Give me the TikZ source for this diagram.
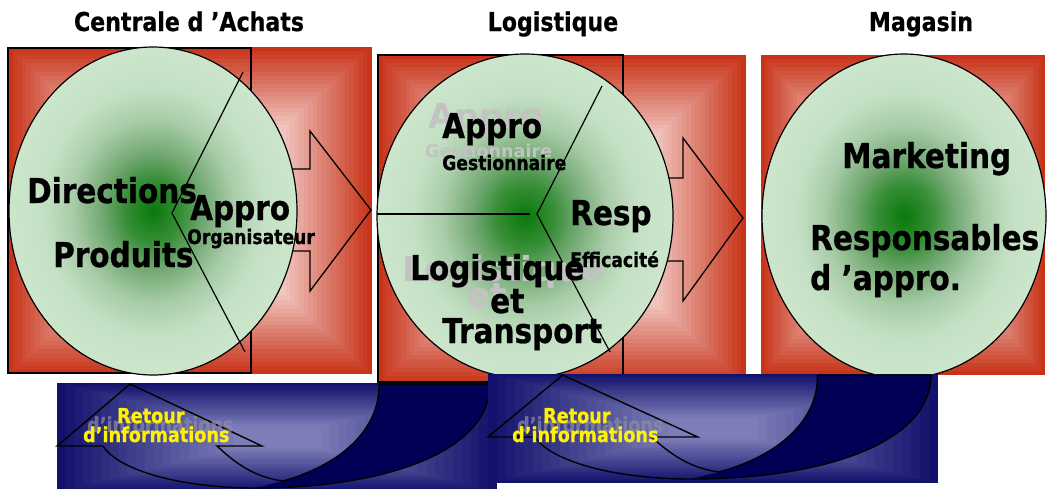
\documentclass[tikz,border=0pt]{standalone}
\usepackage{fontspec}
\newfontfamily\bodyf{DejaVu Sans}[FakeStretch=0.86, FakeBold=0.8]
\newfontfamily\ghostf{DejaVu Sans}
\newfontfamily\titlef{DejaVu Sans}[FakeStretch=0.85, FakeBold=0.6]
\definecolor{redE}{RGB}{200,52,26}
\definecolor{redC}{RGB}{242,205,200}
\definecolor{navyE}{RGB}{18,18,108}
\definecolor{navyC}{RGB}{125,125,185}
\definecolor{navyD}{RGB}{0,0,85}
\definecolor{ghost}{RGB}{195,195,195}
\definecolor{ghostB}{RGB}{140,140,165}
\pgfdeclareradialshading{greenball}{\pgfpoint{0bp}{0bp}}{rgb(0bp)=(0.04,0.47,0.04); rgb(5bp)=(0.22,0.56,0.22); rgb(8.5bp)=(0.43,0.65,0.43); rgb(14bp)=(0.66,0.8,0.66); rgb(19bp)=(0.77,0.88,0.77); rgb(25bp)=(0.8,0.9,0.8); rgb(50bp)=(0.8,0.9,0.8)}
\newcommand\mygradbox[8]{%
  \foreach \i in {0,...,#8}{%
    \pgfmathsetmacro\gbf{#7*\i/#8}%
    \pgfmathtruncatemacro\gbp{100*\i/#8}%
    \fill[fill={#6!\gbp!#5}] ({#1+\gbf*(#3-#1)/2},{#2+\gbf*(#4-#2)/2}) rectangle ({#3-\gbf*(#3-#1)/2},{#4-\gbf*(#4-#2)/2});
  }}
\newcommand\retourshape{%
  \begin{scope}
    \clip (57,383) rectangle (497,492);
    \mygradbox{57}{383}{497}{492}{navyE}{navyC}{0.8}{20}
  \end{scope}
  \fill[navyD] (283,481) .. controls (340,465) and (380,430) .. (379,384) -- (490,384) .. controls (490,450) and (390,488) .. (255,488) -- cycle;
  \draw[retline] (103,446) .. controls (118,470) and (180,488) .. (255,488) .. controls (390,488) and (490,450) .. (490,384) -- (379,384);
  \draw[retline] (103,446) -- (57,446) -- (130,384) -- (262,446) -- (217,446) .. controls (240,468) and (260,478) .. (283,481) .. controls (340,465) and (380,430) .. (379,384);
}
\begin{document}
\begin{tikzpicture}[x=1pt,y=-1pt,
  bigtxt/.style={font=\bodyf\bfseries\fontsize{34.3}{36}\selectfont, inner sep=0pt, anchor=base west},
  smalltxt/.style={font=\bodyf\bfseries\fontsize{20}{22}\selectfont, inner sep=0pt, anchor=base west},
  ghostbig/.style={font=\ghostf\bfseries\fontsize{34.3}{36}\selectfont, inner sep=0pt, anchor=base west, text=ghost},
  ghostsmall/.style={font=\ghostf\bfseries\fontsize{17.6}{20}\selectfont, inner sep=0pt, anchor=base west, text=ghost},
  ttl/.style={font=\titlef\bfseries\fontsize{26}{28}\selectfont, inner sep=0pt, anchor=base},
  rettxt/.style={font=\bodyf\bfseries\fontsize{20.5}{22}\selectfont, inner sep=0pt, anchor=base west, text=yellow},
  boxframe/.style={draw=black, line width=1.3pt},
  bigarrow/.style={draw=black, line width=1.3pt, line join=miter},
  greenoval/.style={shading=greenball, draw=black, line width=1.2pt},
  cutline/.style={draw=black, line width=1.2pt},
  retline/.style={draw=black, line width=1.4pt, line join=miter}
]
\useasboundingbox (0,0) rectangle (1048,488);
\fill[white] (0,0) rectangle (1048,488);

% titles
\node[ttl] (t1) at (189,31) {Centrale d ’Achats};
\node[ttl] (t2) at (553,31) {Logistique};
\node[ttl] (t3) at (921,31) {Magasin};

% red boxes
\mygradbox{8}{47}{372}{374}{redE}{redC}{0.5}{20}
\mygradbox{378}{55}{746}{384}{redE}{redC}{0.5}{20}
\mygradbox{761}{55}{1045}{375}{redE}{redC}{0.5}{20}
\draw[boxframe] (8,48) rectangle (251,373);
\draw[boxframe] (378,55) rectangle (623,382);

% block arrows
\draw[bigarrow] (250,169) -- (310,169) -- (310,131) -- (371,210) -- (310,291) -- (310,251) -- (250,251) -- cycle;
\draw[bigarrow] (620,178) -- (683,178) -- (683,138) -- (743,218) -- (683,301) -- (683,261) -- (620,261) -- cycle;

% ovals
\shadedraw[greenoval] (153,211) ellipse [x radius=144pt, y radius=164pt];
\shadedraw[greenoval] (525,216) ellipse [x radius=148pt, y radius=162pt];
\shadedraw[greenoval] (904,216) ellipse [x radius=142pt, y radius=162pt];

% dividing lines
\draw[cutline] (243,72) -- (172,213) -- (245,352);
\draw[cutline] (602,86) -- (537,214) -- (610,352);
\draw[cutline] (377,214) -- (530,214);

% circle 1 texts
\node[bigtxt] (dir) at (27,203) {Directions};
\node[bigtxt] (prod) at (53,267) {Produits};
\node[bigtxt] (ap1) at (190,220) {Appro};
\node[smalltxt] (org) at (187,244) {Organisateur};

% circle 2 texts
\node[ghostbig] (gap) at (428,128) {Appro};
\node[ghostsmall] (gge) at (425,157) {Gestionnaire};
\node[ghostbig] (glo) at (402,281) {Logistique};
\node[ghostbig] (get) at (467,307) {et};
\node[bigtxt] (ap2) at (442,138) {Appro};
\node[smalltxt] (ges) at (442,170) {Gestionnaire};
\node[bigtxt] (resp) at (570,225) {Resp};
\node[smalltxt] (eff) at (570,267) {Efficacité};
\node[bigtxt] (log) at (410,280) {Logistique};
\node[bigtxt] (et) at (490,313) {et};
\node[bigtxt] (tra) at (442,343) {Transport};

% circle 3 texts
\node[bigtxt] (mkt) at (842,168) {Marketing};
\node[bigtxt] (rsp) at (810,250) {Responsables};
\node[bigtxt] (dap) at (810,290) {d ’appro.};

% bottom feedback arrows
\retourshape
\begin{scope}[shift={(429.7,-9)}, xscale=1.023]
  \retourshape
\end{scope}

\node[rettxt, text=ghostB, opacity=0.7] (g1) at (87,432) {d’informations};
\node[rettxt] (r1a) at (117,423) {Retour};
\node[rettxt] (r1b) at (83,442) {d’informations};
\node[rettxt, text=ghostB, opacity=0.7] (g2) at (517,432) {d’informations};
\node[rettxt] (r2a) at (543,423) {Retour};
\node[rettxt] (r2b) at (512,442) {d’informations};
\end{tikzpicture}
\end{document}
